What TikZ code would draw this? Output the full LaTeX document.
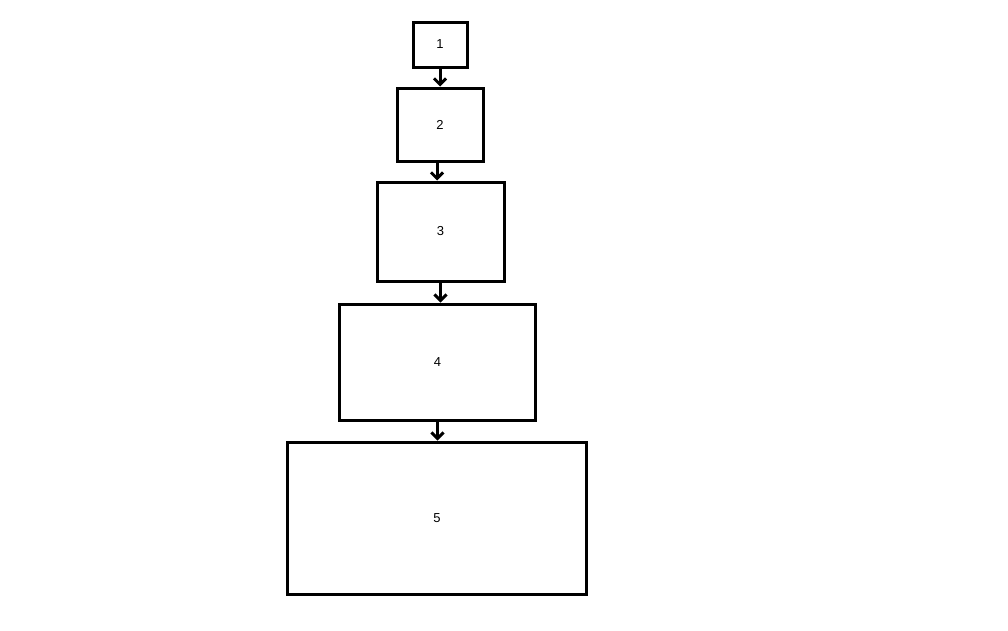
\documentclass[tikz,border=0pt]{standalone}
\usepackage{fontspec}
\setmainfont{Liberation Sans}
\usetikzlibrary{arrows.meta}

\tikzset{
    levelbox/.style={draw, line width=3pt, inner sep=0pt, font=\fontsize{13}{15}\selectfont},
    levelarrow/.style={line width=3pt, -{Straight Barb[length=6pt,width=12pt,line width=3pt]}}
}

\begin{document}
\begin{tikzpicture}[x=1pt,y=-1pt]
        \useasboundingbox (0,0) rectangle (1008,630);
        \node[levelbox, minimum width=54pt, minimum height=45pt] (b1) at (440,44.5) {1};
        \node[levelbox, minimum width=86pt, minimum height=73pt] (b2) at (440,124.5) {2};
        \node[levelbox, minimum width=127pt, minimum height=99pt] (b3) at (440.5,231.5) {3};
        \node[levelbox, minimum width=196pt, minimum height=116pt] (b4) at (437.5,362) {4};
        \node[levelbox, minimum width=299pt, minimum height=152pt] (b5) at (437,518) {5};
        \draw[levelarrow] (b1.south) -- (b1.south |- b2.north);
        \draw[levelarrow] ([xshift=-3pt]b2.south) -- ([xshift=-3pt]b2.south |- b3.north);
        \draw[levelarrow] (b3.south) -- (b3.south |- b4.north);
        \draw[levelarrow] (b4.south) -- (b4.south |- b5.north);
    \end{tikzpicture}
\end{document}
